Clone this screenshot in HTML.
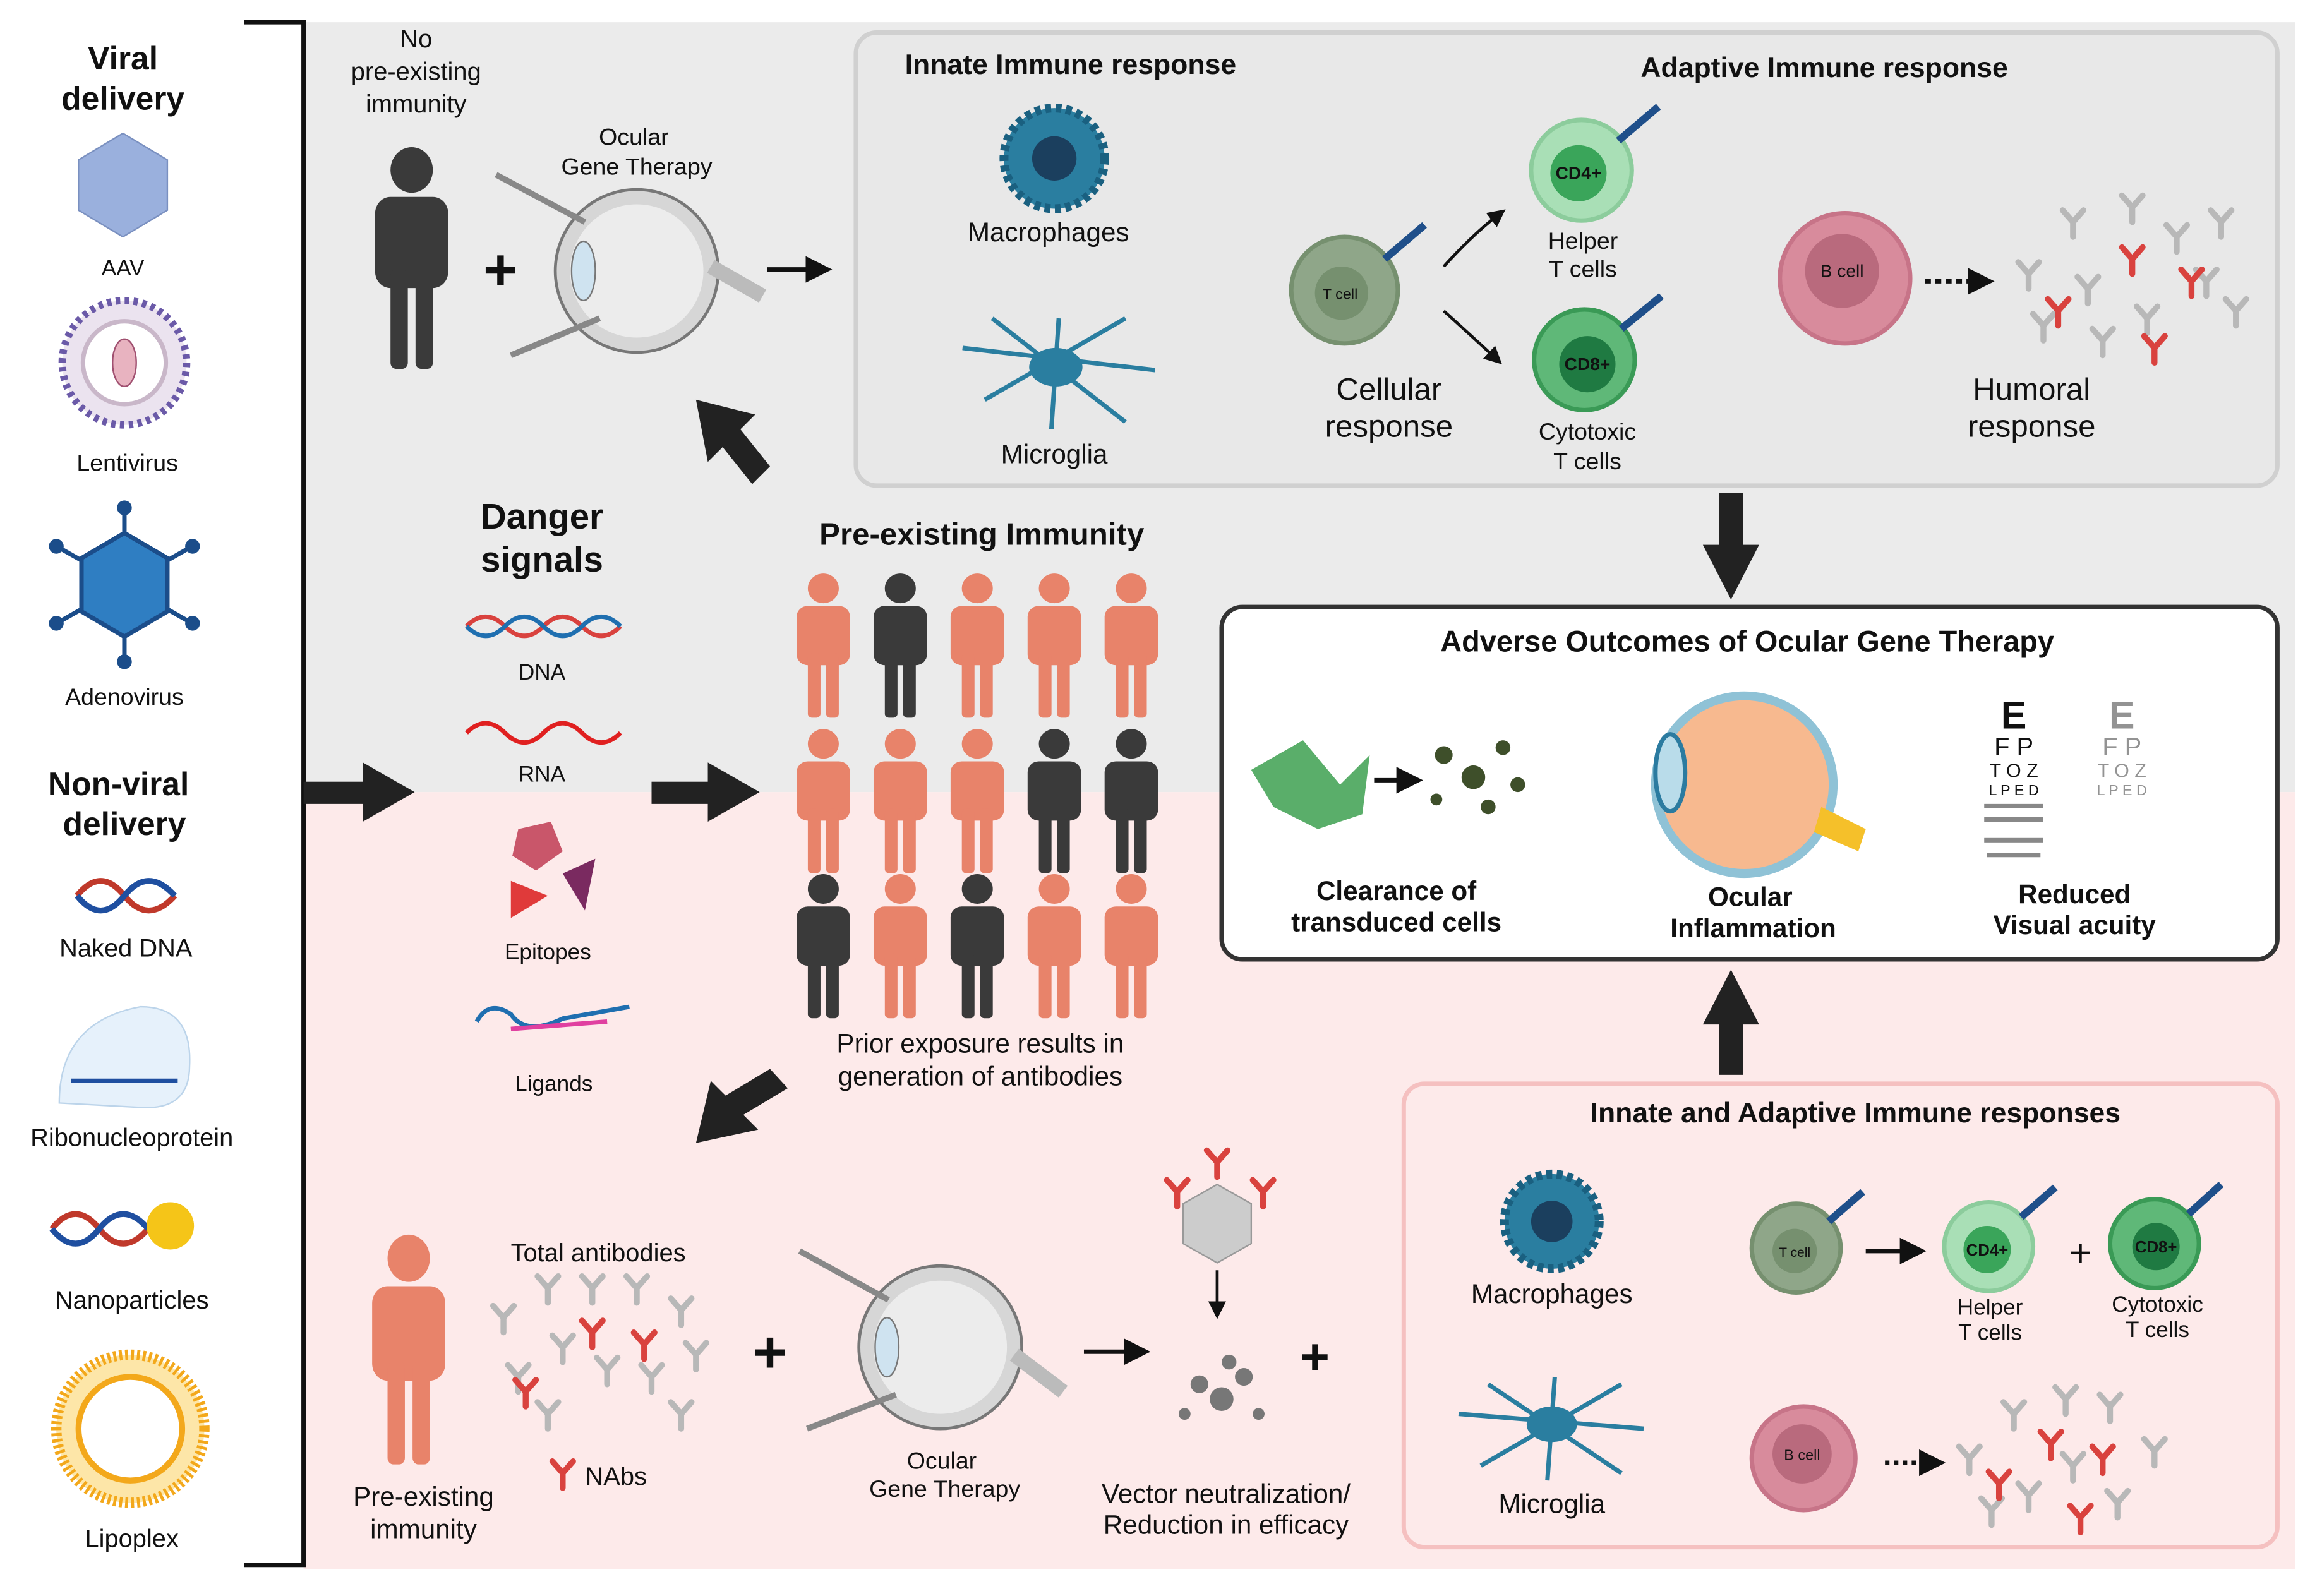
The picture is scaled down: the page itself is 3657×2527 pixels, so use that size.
<!DOCTYPE html>
<html><head><meta charset="utf-8"><style>
html,body{margin:0;padding:0;background:#fff}
svg{display:block}
text{font-family:"Liberation Sans",sans-serif;fill:#111}
.b{font-weight:bold}
</style></head><body>
<svg width="3657" height="2527" viewBox="0 0 1560 1078" xmlns="http://www.w3.org/2000/svg">
<defs>
<g id="p"><circle cx="0" cy="-38" r="11"/><rect x="-19" y="-25" width="38" height="44" rx="8"/><rect x="-11" y="10" width="9" height="48" rx="3"/><rect x="2" y="10" width="9" height="48" rx="3"/></g>
<g id="ab"><path d="M0 0 L0 -10 M0 -10 L-7 -18 M0 -10 L7 -18" stroke-width="4" fill="none" stroke-linecap="round"/></g>
<marker id="ah" markerWidth="6" markerHeight="6" refX="3" refY="3" orient="auto"><path d="M0 0 L6 3 L0 6z" fill="#111"/></marker>
</defs>
<rect x="205" y="15" width="1345" height="520" fill="#ebebeb"/>
<rect x="205" y="535" width="1345" height="525" fill="#fdeaea"/>
<path d="M165 15 H205 V1057 H165" fill="none" stroke="#111" stroke-width="3"/>
<text x="83" y="47" text-anchor="middle" class="b" font-size="22">Viral</text>
<text x="83" y="74" text-anchor="middle" class="b" font-size="22">delivery</text>
<polygon points="83,90 113,108 113,142 83,160 53,142 53,108" fill="#9ab0dd" stroke="#7a90c0"/>
<text x="83" y="186" text-anchor="middle" font-size="15">AAV</text>
<circle cx="84" cy="245" r="42" fill="#ebe3ef" stroke="#6b5aa8" stroke-width="5" stroke-dasharray="3 3"/>
<circle cx="84" cy="245" r="28" fill="#fff" stroke="#c9b7c9" stroke-width="3"/>
<ellipse cx="84" cy="245" rx="8" ry="16" fill="#e8b3c0" stroke="#a05070"/>
<text x="86" y="318" text-anchor="middle" font-size="16">Lentivirus</text>
<g stroke="#1b4d8a" stroke-width="3"><line x1="84" y1="345" x2="84" y2="445"/><line x1="40" y1="370" x2="128" y2="420"/><line x1="40" y1="420" x2="128" y2="370"/></g>
<g fill="#1b4d8a"><circle cx="84" cy="343" r="5"/><circle cx="84" cy="447" r="5"/><circle cx="38" cy="369" r="5"/><circle cx="130" cy="369" r="5"/><circle cx="38" cy="421" r="5"/><circle cx="130" cy="421" r="5"/></g>
<polygon points="84,360 113,377 113,413 84,430 55,413 55,377" fill="#2f7ec2" stroke="#1b4d8a" stroke-width="3"/>
<text x="84" y="476" text-anchor="middle" font-size="16">Adenovirus</text>
<text x="80" y="537" text-anchor="middle" class="b" font-size="22">Non-viral</text>
<text x="84" y="564" text-anchor="middle" class="b" font-size="22">delivery</text>
<path d="M52 605 Q68 585 84 605 T118 605" stroke="#c0392b" stroke-width="4" fill="none"/><path d="M52 605 Q68 625 84 605 T118 605" stroke="#1f4fa0" stroke-width="4" fill="none"/>
<text x="85" y="646" text-anchor="middle" font-size="17">Naked DNA</text>
<path d="M40 745 Q40 690 95 680 Q130 680 128 720 Q128 750 95 748 Z" fill="#e6f1fb" stroke="#bcd4ea"/>
<line x1="48" y1="730" x2="120" y2="730" stroke="#1f4fa0" stroke-width="3"/>
<text x="89" y="774" text-anchor="middle" font-size="17">Ribonucleoprotein</text>
<path d="M35 830 Q51 810 67 830 T100 830" stroke="#c0392b" stroke-width="4" fill="none"/><path d="M35 830 Q51 850 67 830 T100 830" stroke="#1f4fa0" stroke-width="4" fill="none"/>
<circle cx="115" cy="828" r="16" fill="#f5c518"/>
<text x="89" y="884" text-anchor="middle" font-size="17">Nanoparticles</text>
<circle cx="88" cy="965" r="50" fill="#fde6a8" stroke="#f3a81b" stroke-width="7" stroke-dasharray="2 2"/>
<circle cx="88" cy="965" r="35" fill="#fff" stroke="#f3a81b" stroke-width="4"/>
<text x="89" y="1045" text-anchor="middle" font-size="17">Lipoplex</text>
<g fill="#222"><rect x="205" y="528" width="45" height="15"/><polygon points="245,515 280,535 245,555"/>
<rect x="440" y="528" width="45" height="15"/><polygon points="478,515 513,535 478,555"/>
<polygon points="470,270 510,280 500,290 520,315 508,327 488,302 478,312"/>
<polygon points="470,772 480,730 490,740 520,722 532,735 502,753 512,763"/>
<rect x="1161" y="333" width="16" height="40"/><polygon points="1150,368 1188,368 1169,405"/>
<rect x="1161" y="690" width="16" height="36"/><polygon points="1150,692 1188,692 1169,655"/></g>
<text x="281" y="32" text-anchor="middle" font-size="17">No</text>
<text x="281" y="54" text-anchor="middle" font-size="17">pre-existing</text>
<text x="281" y="76" text-anchor="middle" font-size="17">immunity</text>
<use href="#p" fill="#3a3a3a" transform="translate(278 168) scale(1.3 1.4)"/>
<text x="338" y="196" text-anchor="middle" class="b" font-size="40">+</text>
<circle cx="430" cy="183" r="55" fill="#d6d6d6" stroke="#777" stroke-width="2"/><circle cx="430" cy="183" r="45" fill="#ececec"/>
<ellipse cx="394" cy="183" rx="8" ry="20" fill="#cfe3f0" stroke="#777"/>
<path d="M480 180 L515 200" stroke="#bbb" stroke-width="10"/>
<line x1="335" y1="118" x2="395" y2="150" stroke="#888" stroke-width="4"/><line x1="345" y1="240" x2="405" y2="215" stroke="#888" stroke-width="4"/>
<text x="428" y="98" text-anchor="middle" font-size="16">Ocular</text>
<text x="430" y="118" text-anchor="middle" font-size="16">Gene Therapy</text>
<line x1="518" y1="182" x2="553" y2="182" stroke="#111" stroke-width="3" marker-end="url(#ah)"/>
<rect x="578" y="22" width="960" height="306" rx="14" fill="#e8e8e8" stroke="#d0d0d0" stroke-width="3"/>
<text x="723" y="50" text-anchor="middle" class="b" font-size="19">Innate Immune response</text>
<text x="1232" y="52" text-anchor="middle" class="b" font-size="19">Adaptive Immune response</text>
<circle cx="712" cy="107" r="34" fill="#2a7ea0" stroke="#1a6080" stroke-width="6" stroke-dasharray="4 3"/><circle cx="712" cy="107" r="15" fill="#1b3f5e"/>
<text x="708" y="163" text-anchor="middle" font-size="18">Macrophages</text>
<g stroke="#2a7ea0" stroke-width="3" fill="none"><path d="M650 235 L780 250 M715 215 L710 290 M665 270 L760 215 M670 215 L760 285"/></g><ellipse cx="713" cy="248" rx="18" ry="13" fill="#2a7ea0"/>
<text x="712" y="313" text-anchor="middle" font-size="18">Microglia</text>
<circle cx="908" cy="196" r="36" fill="#8fa689" stroke="#76906f" stroke-width="3"/><circle cx="906" cy="198" r="18" fill="#76906f"/><text x="905" y="202" text-anchor="middle" font-size="10" fill="#fff">T cell</text>
<path d="M975 180 Q995 158 1012 145" stroke="#111" stroke-width="2" fill="none" marker-end="url(#ah)"/>
<path d="M975 210 Q995 228 1010 242" stroke="#111" stroke-width="2" fill="none" marker-end="url(#ah)"/>
<text x="938" y="270" text-anchor="middle" font-size="21">Cellular</text>
<text x="938" y="295" text-anchor="middle" font-size="21">response</text>
<circle cx="1068" cy="115" r="34" fill="#a9dfb6" stroke="#8ccc9c" stroke-width="3"/><circle cx="1066" cy="117" r="19" fill="#3aa55a"/><text x="1066" y="121" text-anchor="middle" class="b" font-size="12" fill="#fff">CD4+</text>
<text x="1069" y="168" text-anchor="middle" font-size="16">Helper</text><text x="1069" y="187" text-anchor="middle" font-size="16">T cells</text>
<circle cx="1070" cy="243" r="34" fill="#5fb878" stroke="#3a9a56" stroke-width="3"/><circle cx="1072" cy="246" r="19" fill="#1f7a42"/><text x="1072" y="250" text-anchor="middle" class="b" font-size="12" fill="#fff">CD8+</text>
<text x="1072" y="297" text-anchor="middle" font-size="16">Cytotoxic</text><text x="1072" y="317" text-anchor="middle" font-size="16">T cells</text>
<g stroke="#1f4f8a" stroke-width="5"><line x1="935" y1="175" x2="962" y2="152"/><line x1="1093" y1="95" x2="1120" y2="72"/><line x1="1095" y1="222" x2="1122" y2="200"/></g>
<circle cx="1246" cy="188" r="44" fill="#d88b9c" stroke="#c77488" stroke-width="3"/><circle cx="1244" cy="183" r="25" fill="#b96a7d"/><text x="1244" y="187" text-anchor="middle" font-size="12" fill="#fff">B cell</text>
<line x1="1300" y1="190" x2="1338" y2="190" stroke="#111" stroke-width="3" stroke-dasharray="4 3" marker-end="url(#ah)"/>
<g stroke="#b8b8b8"><use href="#ab" x="1370" y="195"/><use href="#ab" x="1400" y="160"/><use href="#ab" x="1440" y="150"/><use href="#ab" x="1470" y="170"/><use href="#ab" x="1500" y="160"/><use href="#ab" x="1410" y="205"/><use href="#ab" x="1450" y="225"/><use href="#ab" x="1510" y="220"/><use href="#ab" x="1380" y="230"/><use href="#ab" x="1420" y="240"/><use href="#ab" x="1490" y="200"/></g>
<g stroke="#d9423e"><use href="#ab" x="1440" y="185"/><use href="#ab" x="1480" y="200"/><use href="#ab" x="1390" y="220"/><use href="#ab" x="1455" y="245"/></g>
<text x="1372" y="270" text-anchor="middle" font-size="21">Humoral</text>
<text x="1372" y="295" text-anchor="middle" font-size="21">response</text>
<text x="366" y="357" text-anchor="middle" class="b" font-size="24">Danger</text>
<text x="366" y="386" text-anchor="middle" class="b" font-size="24">signals</text>
<path d="M315 423 Q328 410 341 423 T367 423 T393 423 T419 423" stroke="#d9423e" stroke-width="3" fill="none"/><path d="M315 423 Q328 436 341 423 T367 423 T393 423 T419 423" stroke="#1f6fb0" stroke-width="3" fill="none"/>
<text x="366" y="459" text-anchor="middle" font-size="15">DNA</text>
<path d="M315 495 Q328 482 341 495 T367 495 T393 495 T419 495" stroke="#e02020" stroke-width="3" fill="none"/>
<text x="366" y="528" text-anchor="middle" font-size="15">RNA</text>
<polygon points="350,560 372,555 380,575 362,588 346,578" fill="#c9566a"/><polygon points="345,595 370,605 345,620" fill="#e03a3a"/><polygon points="380,590 402,580 395,615" fill="#7a2a60"/>
<text x="370" y="648" text-anchor="middle" font-size="15">Epitopes</text>
<path d="M322 690 Q330 675 345 685 Q355 700 380 688 L425 680" stroke="#1f6fb0" stroke-width="3" fill="none"/><path d="M345 695 L410 690" stroke="#e040a0" stroke-width="3"/>
<text x="374" y="737" text-anchor="middle" font-size="15">Ligands</text>
<text x="663" y="368" text-anchor="middle" class="b" font-size="21">Pre-existing Immunity</text>
<g transform="translate(556 432) scale(0.95 0.91)"><use href="#p" fill="#e8836a"/></g>
<g transform="translate(608 432) scale(0.95 0.91)"><use href="#p" fill="#3a3a3a"/></g>
<g transform="translate(660 432) scale(0.95 0.91)"><use href="#p" fill="#e8836a"/></g>
<g transform="translate(712 432) scale(0.95 0.91)"><use href="#p" fill="#e8836a"/></g>
<g transform="translate(764 432) scale(0.95 0.91)"><use href="#p" fill="#e8836a"/></g>
<g transform="translate(556 537) scale(0.95 0.91)"><use href="#p" fill="#e8836a"/></g>
<g transform="translate(608 537) scale(0.95 0.91)"><use href="#p" fill="#e8836a"/></g>
<g transform="translate(660 537) scale(0.95 0.91)"><use href="#p" fill="#e8836a"/></g>
<g transform="translate(712 537) scale(0.95 0.91)"><use href="#p" fill="#3a3a3a"/></g>
<g transform="translate(764 537) scale(0.95 0.91)"><use href="#p" fill="#3a3a3a"/></g>
<g transform="translate(556 635) scale(0.95 0.91)"><use href="#p" fill="#3a3a3a"/></g>
<g transform="translate(608 635) scale(0.95 0.91)"><use href="#p" fill="#e8836a"/></g>
<g transform="translate(660 635) scale(0.95 0.91)"><use href="#p" fill="#3a3a3a"/></g>
<g transform="translate(712 635) scale(0.95 0.91)"><use href="#p" fill="#e8836a"/></g>
<g transform="translate(764 635) scale(0.95 0.91)"><use href="#p" fill="#e8836a"/></g>
<text x="662" y="711" text-anchor="middle" font-size="18">Prior exposure results in</text>
<text x="662" y="733" text-anchor="middle" font-size="18">generation of antibodies</text>
<rect x="825" y="410" width="713" height="238" rx="14" fill="#fff" stroke="#333" stroke-width="3"/>
<text x="1180" y="440" text-anchor="middle" class="b" font-size="20">Adverse Outcomes of Ocular Gene Therapy</text>
<g fill="#5aae6a"><polygon points="845,520 880,500 905,530 925,510 920,550 890,560 860,545"/></g>
<line x1="928" y1="527" x2="952" y2="527" stroke="#111" stroke-width="3" marker-end="url(#ah)"/>
<g fill="#3e4f2a"><circle cx="975" cy="510" r="6"/><circle cx="995" cy="525" r="8"/><circle cx="1015" cy="505" r="5"/><circle cx="1005" cy="545" r="5"/><circle cx="970" cy="540" r="4"/><circle cx="1025" cy="530" r="5"/></g>
<text x="943" y="608" text-anchor="middle" class="b" font-size="18">Clearance of</text>
<text x="943" y="629" text-anchor="middle" class="b" font-size="18">transduced cells</text>
<circle cx="1178" cy="530" r="60" fill="#f7b98f" stroke="#8fc2d6" stroke-width="6"/>
<ellipse cx="1128" cy="522" rx="10" ry="26" fill="#b9dcea" stroke="#2b7ba0" stroke-width="3"/>
<path d="M1230 545 L1260 560 L1255 575 L1225 562z" fill="#f5c02a"/>
<text x="1182" y="612" text-anchor="middle" class="b" font-size="18">Ocular</text>
<text x="1184" y="633" text-anchor="middle" class="b" font-size="18">Inflammation</text>
<text x="1360" y="492" text-anchor="middle" class="b" font-size="26">E</text>
<text x="1360" y="510" text-anchor="middle" font-size="17">F P</text>
<text x="1360" y="525" text-anchor="middle" font-size="13">T O Z</text>
<text x="1360" y="537" text-anchor="middle" font-size="10">L P E D</text>
<g fill="#888"><rect x="1340" y="543" width="40" height="3"/><rect x="1340" y="552" width="40" height="3"/><rect x="1340" y="566" width="40" height="3"/><rect x="1342" y="576" width="36" height="3"/></g>
<g opacity="0.45"><text x="1433" y="492" text-anchor="middle" class="b" font-size="26">E</text>
<text x="1433" y="510" text-anchor="middle" font-size="17">F P</text>
<text x="1433" y="525" text-anchor="middle" font-size="13">T O Z</text>
<text x="1433" y="537" text-anchor="middle" font-size="10">L P E D</text></g>
<text x="1401" y="610" text-anchor="middle" class="b" font-size="18">Reduced</text>
<text x="1401" y="631" text-anchor="middle" class="b" font-size="18">Visual acuity</text>
<use href="#p" fill="#e8836a" transform="translate(276 905) scale(1.3 1.45)"/>
<text x="286" y="1017" text-anchor="middle" font-size="18">Pre-existing</text>
<text x="286" y="1039" text-anchor="middle" font-size="18">immunity</text>
<text x="404" y="852" text-anchor="middle" font-size="17">Total antibodies</text>
<g stroke="#b8b8b8"><use href="#ab" x="340" y="900"/><use href="#ab" x="370" y="880"/><use href="#ab" x="400" y="880"/><use href="#ab" x="430" y="880"/><use href="#ab" x="460" y="895"/><use href="#ab" x="350" y="940"/><use href="#ab" x="380" y="920"/><use href="#ab" x="410" y="935"/><use href="#ab" x="440" y="940"/><use href="#ab" x="470" y="925"/><use href="#ab" x="370" y="965"/><use href="#ab" x="460" y="965"/></g>
<g stroke="#d9423e"><use href="#ab" x="400" y="910"/><use href="#ab" x="435" y="918"/><use href="#ab" x="355" y="950"/><use href="#ab" x="380" y="1005"/></g>
<text x="416" y="1003" text-anchor="middle" font-size="17">NAbs</text>
<text x="520" y="927" text-anchor="middle" class="b" font-size="40">+</text>
<circle cx="635" cy="910" r="55" fill="#d6d6d6" stroke="#777" stroke-width="2"/><circle cx="635" cy="910" r="45" fill="#ececec"/>
<ellipse cx="599" cy="910" rx="8" ry="20" fill="#cfe3f0" stroke="#777"/>
<path d="M685 915 L718 940" stroke="#bbb" stroke-width="10"/>
<line x1="540" y1="845" x2="600" y2="878" stroke="#888" stroke-width="4"/><line x1="545" y1="965" x2="605" y2="942" stroke="#888" stroke-width="4"/>
<text x="636" y="992" text-anchor="middle" font-size="16">Ocular</text>
<text x="638" y="1011" text-anchor="middle" font-size="16">Gene Therapy</text>
<line x1="732" y1="913" x2="768" y2="913" stroke="#111" stroke-width="3" marker-end="url(#ah)"/>
<polygon points="822,800 845,813 845,840 822,853 799,840 799,813" fill="#ccc" stroke="#999"/>
<g stroke="#d9423e"><use href="#ab" x="822" y="795"/><use href="#ab" x="853" y="815"/><use href="#ab" x="795" y="815"/></g>
<line x1="822" y1="858" x2="822" y2="885" stroke="#111" stroke-width="2" marker-end="url(#ah)"/>
<g fill="#777"><circle cx="810" cy="935" r="6"/><circle cx="825" cy="945" r="8"/><circle cx="840" cy="930" r="6"/><circle cx="830" cy="920" r="5"/><circle cx="800" cy="955" r="4"/><circle cx="850" cy="955" r="4"/></g>
<text x="888" y="928" text-anchor="middle" class="b" font-size="34">+</text>
<text x="828" y="1015" text-anchor="middle" font-size="18">Vector neutralization/</text>
<text x="828" y="1036" text-anchor="middle" font-size="18">Reduction in efficacy</text>
<rect x="948" y="732" width="590" height="313" rx="14" fill="#fdeaea" stroke="#f5c0c0" stroke-width="3"/>
<text x="1253" y="758" text-anchor="middle" class="b" font-size="19">Innate and Adaptive Immune responses</text>
<circle cx="1048" cy="825" r="32" fill="#2a7ea0" stroke="#1a6080" stroke-width="6" stroke-dasharray="4 3"/><circle cx="1048" cy="825" r="14" fill="#1b3f5e"/>
<text x="1048" y="880" text-anchor="middle" font-size="18">Macrophages</text>
<g stroke="#2a7ea0" stroke-width="3" fill="none"><path d="M985 955 L1110 965 M1050 930 L1045 1000 M1000 990 L1095 935 M1005 935 L1095 995"/></g><ellipse cx="1048" cy="962" rx="17" ry="12" fill="#2a7ea0"/>
<text x="1048" y="1022" text-anchor="middle" font-size="18">Microglia</text>
<circle cx="1213" cy="843" r="30" fill="#8fa689" stroke="#76906f" stroke-width="3"/><circle cx="1212" cy="845" r="15" fill="#76906f"/><text x="1212" y="849" text-anchor="middle" font-size="9" fill="#fff">T cell</text>
<line x1="1260" y1="845" x2="1292" y2="845" stroke="#111" stroke-width="3" marker-end="url(#ah)"/>
<circle cx="1343" cy="842" r="30" fill="#a9dfb6" stroke="#8ccc9c" stroke-width="3"/><circle cx="1342" cy="844" r="16" fill="#3aa55a"/><text x="1342" y="848" text-anchor="middle" class="b" font-size="11" fill="#fff">CD4+</text>
<text x="1344" y="888" text-anchor="middle" font-size="15">Helper</text><text x="1344" y="905" text-anchor="middle" font-size="15">T cells</text>
<text x="1405" y="855" text-anchor="middle" font-size="26">+</text>
<circle cx="1455" cy="840" r="30" fill="#5fb878" stroke="#3a9a56" stroke-width="3"/><circle cx="1456" cy="842" r="16" fill="#1f7a42"/><text x="1456" y="846" text-anchor="middle" class="b" font-size="11" fill="#fff">CD8+</text>
<text x="1457" y="886" text-anchor="middle" font-size="15">Cytotoxic</text><text x="1457" y="903" text-anchor="middle" font-size="15">T cells</text>
<g stroke="#1f4f8a" stroke-width="5"><line x1="1235" y1="825" x2="1258" y2="805"/><line x1="1365" y1="822" x2="1388" y2="802"/><line x1="1478" y1="820" x2="1500" y2="800"/></g>
<circle cx="1218" cy="985" r="35" fill="#d88b9c" stroke="#c77488" stroke-width="3"/><circle cx="1217" cy="982" r="20" fill="#b96a7d"/><text x="1217" y="986" text-anchor="middle" font-size="10" fill="#fff">B cell</text>
<line x1="1273" y1="988" x2="1305" y2="988" stroke="#111" stroke-width="3" stroke-dasharray="3 3" marker-end="url(#ah)"/>
<g stroke="#b8b8b8"><use href="#ab" x="1330" y="995"/><use href="#ab" x="1360" y="965"/><use href="#ab" x="1395" y="955"/><use href="#ab" x="1425" y="960"/><use href="#ab" x="1455" y="990"/><use href="#ab" x="1370" y="1020"/><use href="#ab" x="1400" y="1000"/><use href="#ab" x="1430" y="1025"/><use href="#ab" x="1345" y="1030"/></g>
<g stroke="#d9423e"><use href="#ab" x="1385" y="985"/><use href="#ab" x="1420" y="995"/><use href="#ab" x="1350" y="1012"/><use href="#ab" x="1405" y="1035"/></g>
</svg>
</body></html>
